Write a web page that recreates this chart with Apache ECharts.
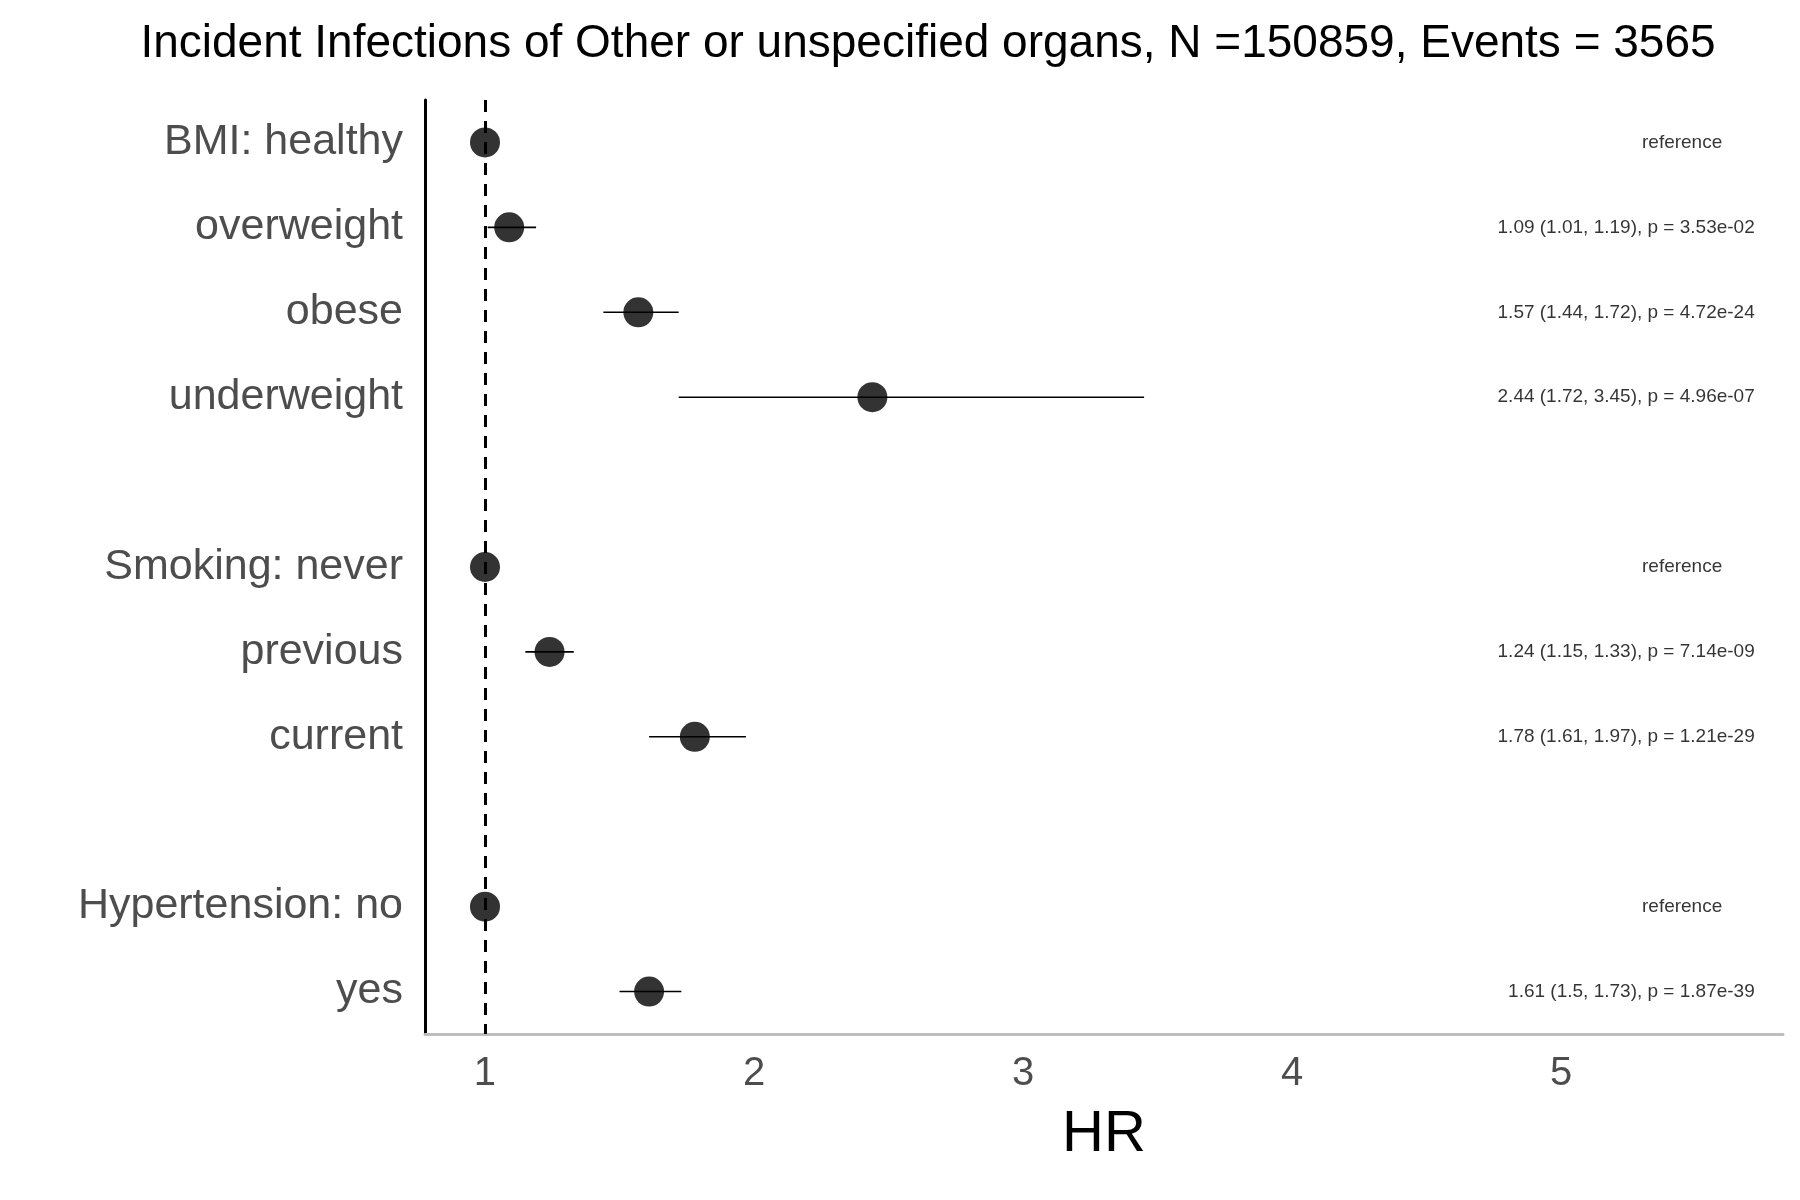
<!DOCTYPE html>
<html><head><meta charset="utf-8">
<script src="https://cdn.jsdelivr.net/npm/echarts@6/dist/echarts.min.js"></script>
<style>html,body{margin:0;background:#fff}#c{width:1800px;height:1200px}</style>
</head><body><div id="c"></div>
<script>
const categories = ["BMI: healthy","overweight","obese","underweight","","Smoking: never","previous","current","","Hypertension: no","yes"];
const hr    = [1, 1.09, 1.57, 2.44, null, 1, 1.24, 1.78, null, 1, 1.61];
const lower = [1, 1.01, 1.44, 1.72, null, 1, 1.15, 1.61, null, 1, 1.50];
const upper = [1, 1.19, 1.72, 3.45, null, 1, 1.33, 1.97, null, 1, 1.73];
const notes = ["reference","1.09 (1.01, 1.19), p = 3.53e-02","1.57 (1.44, 1.72), p = 4.72e-24","2.44 (1.72, 3.45), p = 4.96e-07","","reference","1.24 (1.15, 1.33), p = 7.14e-09","1.78 (1.61, 1.97), p = 1.21e-29","","reference","1.61 (1.5, 1.73), p = 1.87e-39"];
const xTicks = [1,2,3,4,5];
const F = "Liberation Sans, Arial, sans-serif";

const pts = [], bars = [], refs = [], txt = [];
categories.forEach((c,i)=>{
  if (hr[i]==null) return;
  pts.push([hr[i], i]);
  bars.push([lower[i], upper[i], i]);
  if (notes[i]==="reference") refs.push([5.45, i, notes[i]]);
  else txt.push([5.72, i, notes[i]]);
});

const chart = echarts.init(document.getElementById('c'));
chart.setOption({
  animation:false,
  title:{text:"Incident Infections of Other or unspecified organs, N =150859, Events = 3565",
    left:923, top:16, textAlign:'center',
    textStyle:{fontFamily:F, fontSize:46, fontWeight:'normal', color:'#000'}},
  grid:{left:425, right:17, top:100, bottom:166},
  xAxis:{type:'value', min:0.777, max:5.825, name:'HR', nameLocation:'middle', nameGap:72,
    nameTextStyle:{fontFamily:F, fontSize:58, color:'#000'},
    axisLine:{show:true, lineStyle:{color:'#bebebe', width:3}},
    axisTick:{show:false},
    splitLine:{show:false},
    axisLabel:{customValues:xTicks, fontFamily:F, fontSize:40, color:'#4d4d4d', margin:20}},
  yAxis:{type:'category', data:categories, inverse:true,
    axisLine:{show:true, lineStyle:{color:'#000', width:3}},
    axisTick:{show:false},
    axisLabel:{fontFamily:F, fontSize:43, color:'#4d4d4d', margin:22, interval:0}},
  series:[
    {type:'custom', data:bars, encode:{x:[0,1], y:2}, z:2,
     renderItem:(p,api)=>{
       const a=api.coord([api.value(0),api.value(2)]), b=api.coord([api.value(1),api.value(2)]);
       return {type:'line', shape:{x1:a[0],y1:a[1],x2:b[0],y2:b[1]}, style:{stroke:'#000', lineWidth:1.6}};
     }},
    {type:'scatter', data:pts, symbolSize:30, itemStyle:{color:'#000'}, z:4,
     markLine:{silent:true, symbol:'none', label:{show:false},
       lineStyle:{color:'#000', type:[12,9], width:3}, data:[{xAxis:1}]}},
    {type:'scatter', data:txt, symbolSize:0,
     label:{show:true, position:'inside', align:'right', formatter:p=>p.data[2],
       fontFamily:F, fontSize:19, color:'#000'}},
    {type:'scatter', data:refs, symbolSize:0,
     label:{show:true, position:'inside', align:'center', formatter:p=>p.data[2],
       fontFamily:F, fontSize:19, color:'#000'}}
  ]
});
</script></body></html>
